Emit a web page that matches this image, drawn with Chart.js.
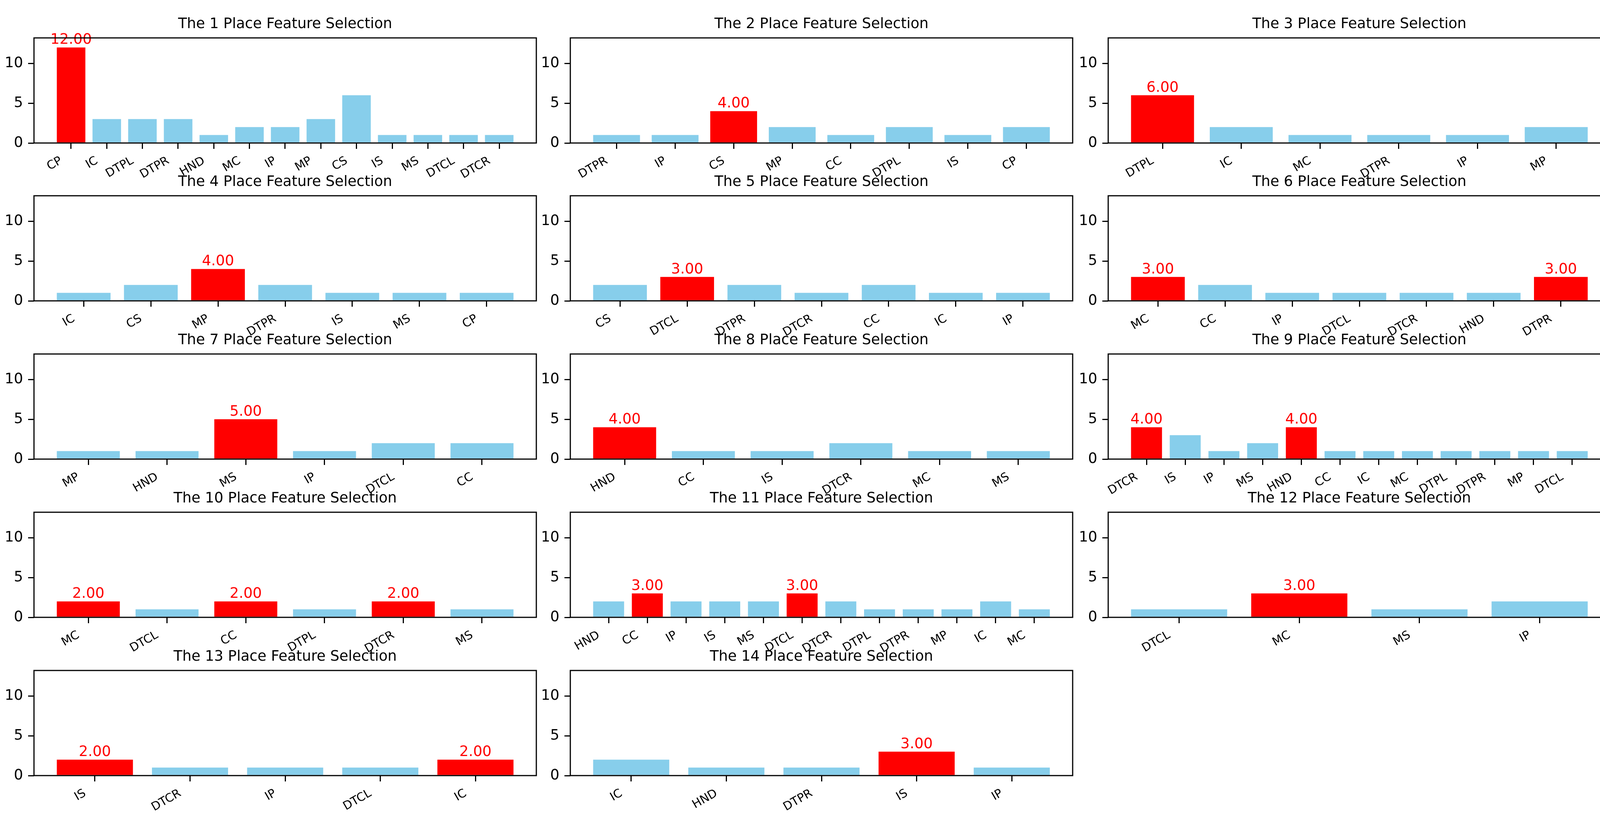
<!DOCTYPE html>
<html>
<head>
<meta charset="utf-8">
<script src="https://cdn.jsdelivr.net/npm/chart.js@4.4.1/dist/chart.umd.min.js"></script>
<style>
  html, body { margin: 0; padding: 0; background: #fff; }
  #wrap { position: relative; width: 4144px; height: 2091px; overflow: hidden; background: #fff; }
  #wrap canvas { position: absolute; }
</style>
</head>
<body>
<div id="wrap"></div>
<script>
// one entry per "place": feature names and how often each was selected
const placeFeatures = [
  ['CP', 'IC', 'DTPL', 'DTPR', 'HND', 'MC', 'IP', 'MP', 'CS', 'IS', 'MS', 'DTCL', 'DTCR'],
  ['DTPR', 'IP', 'CS', 'MP', 'CC', 'DTPL', 'IS', 'CP'],
  ['DTPL', 'IC', 'MC', 'DTPR', 'IP', 'MP'],
  ['IC', 'CS', 'MP', 'DTPR', 'IS', 'MS', 'CP'],
  ['CS', 'DTCL', 'DTPR', 'DTCR', 'CC', 'IC', 'IP'],
  ['MC', 'CC', 'IP', 'DTCL', 'DTCR', 'HND', 'DTPR'],
  ['MP', 'HND', 'MS', 'IP', 'DTCL', 'CC'],
  ['HND', 'CC', 'IS', 'DTCR', 'MC', 'MS'],
  ['DTCR', 'IS', 'IP', 'MS', 'HND', 'CC', 'IC', 'MC', 'DTPL', 'DTPR', 'MP', 'DTCL'],
  ['MC', 'DTCL', 'CC', 'DTPL', 'DTCR', 'MS'],
  ['HND', 'CC', 'IP', 'IS', 'MS', 'DTCL', 'DTCR', 'DTPL', 'DTPR', 'MP', 'IC', 'MC'],
  ['DTCL', 'MC', 'MS', 'IP'],
  ['IS', 'DTCR', 'IP', 'DTCL', 'IC'],
  ['IC', 'HND', 'DTPR', 'IS', 'IP']
];
const placeCounts = [
  [12, 3, 3, 3, 1, 2, 2, 3, 6, 1, 1, 1, 1],
  [1, 1, 4, 2, 1, 2, 1, 2],
  [6, 2, 1, 1, 1, 2],
  [1, 2, 4, 2, 1, 1, 1],
  [2, 3, 2, 1, 2, 1, 1],
  [3, 2, 1, 1, 1, 1, 3],
  [1, 1, 5, 1, 2, 2],
  [4, 1, 1, 2, 1, 1],
  [4, 3, 1, 2, 4, 1, 1, 1, 1, 1, 1, 1],
  [2, 1, 2, 1, 2, 1],
  [2, 3, 2, 2, 2, 3, 2, 1, 1, 1, 2, 1],
  [1, 3, 1, 2],
  [2, 1, 1, 1, 2],
  [2, 1, 1, 3, 1]
];
const yTicks = [0, 5, 10];
const yMax = 13.2;

const FONT = 'DejaVu Sans';
const colLefts = [87, 1460, 2837];
const rowTops = [96.5, 501.25, 906, 1310.75, 1715.5];
const axW = 1286, axH = 269;
const yAxisW = 80, titleH = 53, xAxisH = 110;

// full frame round the plot area (all four spines)
const framePlugin = {
  id: 'frame',
  afterDraw(chart) {
    const a = chart.chartArea, ctx = chart.ctx;
    ctx.save();
    ctx.strokeStyle = '#000';
    ctx.lineWidth = 3;
    ctx.strokeRect(a.left, a.top, a.right - a.left, a.bottom - a.top);
    ctx.restore();
  }
};

// "12.00"-style labels over the highest bars
const maxLabelPlugin = {
  id: 'maxLabels',
  afterDatasetsDraw(chart) {
    const counts = chart.data.datasets[0].data.map(d => d.y);
    const top = Math.max(...counts);
    const ctx = chart.ctx;
    ctx.save();
    ctx.fillStyle = '#ff0000';
    ctx.font = '37px "' + FONT + '"';
    ctx.textAlign = 'center';
    ctx.textBaseline = 'alphabetic';
    chart.getDatasetMeta(0).data.forEach((bar, i) => {
      if (counts[i] === top) ctx.fillText(top.toFixed(2), bar.x, bar.y - 9);
    });
    ctx.restore();
  }
};

const wrap = document.getElementById('wrap');

placeFeatures.forEach((names, p) => {
  const counts = placeCounts[p];
  const top = Math.max(...counts);
  const L = colLefts[p % 3], T = rowTops[Math.floor(p / 3)];

  const canvas = document.createElement('canvas');
  const cw = yAxisW + axW + yAxisW, ch = titleH + axH + xAxisH;
  canvas.width = cw; canvas.height = ch;
  canvas.style.width = cw + 'px'; canvas.style.height = ch + 'px';
  canvas.style.left = (L - yAxisW) + 'px';
  canvas.style.top = (T - titleH) + 'px';
  wrap.appendChild(canvas);

  const n = names.length;
  const margin = (n - 1 + 0.8) * 0.05;

  new Chart(canvas, {
    type: 'bar',
    data: {
      datasets: [{
        data: counts.map((v, i) => ({ x: i, y: v })),
        backgroundColor: counts.map(v => v === top ? '#ff0000' : '#87ceeb'),
        borderWidth: 0,
        categoryPercentage: 0.8,
        barPercentage: 1.0
      }]
    },
    options: {
      responsive: false,
      animation: false,
      devicePixelRatio: 1,
      layout: { padding: 0 },
      plugins: {
        legend: { display: false },
        tooltip: { enabled: false },
        title: {
          display: true,
          text: 'The ' + (p + 1) + ' Place Feature Selection',
          color: '#000',
          font: { family: FONT, size: 37, weight: 'normal', lineHeight: 1 },
          padding: { top: 0, bottom: titleH - 37 }
        }
      },
      scales: {
        x: {
          type: 'linear',
          min: -0.4 - margin,
          max: n - 1 + 0.4 + margin,
          offset: false,
          border: { display: false },
          grid: { offset: false, drawOnChartArea: false, drawTicks: true, tickLength: 15, color: '#000', lineWidth: 3 },
          ticks: {
            autoSkip: false,
            minRotation: 30,
            maxRotation: 30,
            padding: 13,
            labelOffset: -25,
            color: '#000',
            font: { family: FONT, size: 30 },
            callback: v => names[v] ?? ''
          },
          afterBuildTicks: s => { s.ticks = names.map((_, i) => ({ value: i })); },
          afterFit: s => { s.height = xAxisH; s.paddingLeft = 0; s.paddingRight = 0; }
        },
        y: {
          min: 0,
          max: yMax,
          border: { display: false },
          grid: { drawOnChartArea: false, drawTicks: true, tickLength: 15, color: '#000', lineWidth: 3 },
          ticks: {
            padding: 13,
            color: '#000',
            font: { family: FONT, size: 37 }
          },
          afterBuildTicks: s => { s.ticks = yTicks.map(v => ({ value: v })); },
          afterFit: s => { s.width = yAxisW; s.paddingTop = 0; s.paddingBottom = 0; }
        },
        // empty right-hand box so the title centres over the plot area
        yRight: {
          position: 'right',
          display: true,
          border: { display: false },
          grid: { display: false },
          ticks: { display: false },
          afterFit: s => { s.width = yAxisW; s.paddingTop = 0; s.paddingBottom = 0; }
        }
      }
    },
    plugins: [framePlugin, maxLabelPlugin]
  });
});
</script>
</body>
</html>
